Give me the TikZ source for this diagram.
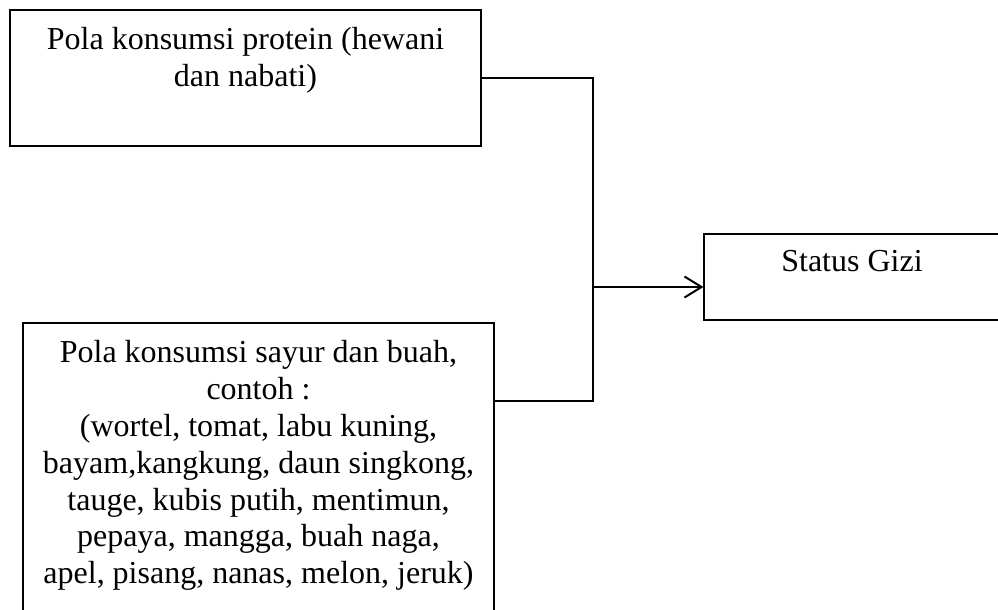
\documentclass[tikz,border=0pt]{standalone}
\usepackage{fontspec}
\setmainfont{Liberation Serif}
\usetikzlibrary{arrows.meta}

\begin{document}
\begin{tikzpicture}[
  x=1pt, y=-1pt,
  font=\fontsize{32}{36.8}\selectfont,
  box/.style={draw, line width=1.2pt, rectangle, inner sep=0pt},
  boxtext/.style={anchor=north, align=center, inner sep=0pt},
  link/.style={line width=2.4pt},
  arrow/.style={-{Straight Barb[length=17pt, width=21pt, line width=2pt]}, line width=2.4pt}
]
\clip (0,0) rectangle (998,610);

% Boxes
\node[box, minimum width=471, minimum height=136] (protein) at (245.5,78) {};
\node[box, minimum width=471, minimum height=302] (sayur) at (258.5,474) {};
\node[box, minimum width=296, minimum height=86] (status) at (852,277) {};

% Texts in the boxes
\node[boxtext, yshift=-18pt] (proteintext) at (protein.north)
  {Pola konsumsi protein (hewani\\dan nabati)};
\node[boxtext, yshift=-18pt] (sayurtext) at (sayur.north)
  {Pola konsumsi sayur dan buah,\\contoh :\\(wortel, tomat, labu kuning,\\bayam,kangkung, daun singkong,\\tauge, kubis putih, mentimun,\\pepaya, mangga, buah naga,\\apel, pisang, nanas, melon, jeruk)};
\node[boxtext, yshift=-17pt] (statustext) at (status.north) {Status Gizi};

% Joining lines
\coordinate (join) at (593,287);
\coordinate (sayurout) at (494,401);
\draw[link] (protein.east) -| (join) |- (sayurout);

% Arrow to status
\draw[arrow] (join) -- (join -| status.west);

\end{tikzpicture}
\end{document}
